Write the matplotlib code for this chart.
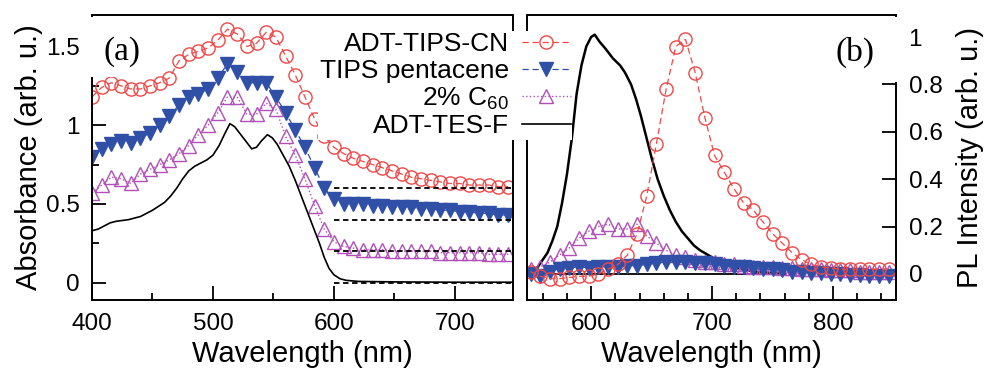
import numpy as np
import matplotlib
matplotlib.use("Agg")
import matplotlib.pyplot as plt
from matplotlib.patches import Rectangle
from matplotlib.ticker import MultipleLocator

plt.rcParams['font.family'] = ['Liberation Sans', 'DejaVu Sans']
plt.rcParams['mathtext.default'] = 'regular'

# ---- (a) absorbance, markers every 8 nm ----
wl_abs = np.arange(400, 745, 8)
abs_cn = [1.18, 1.24, 1.27, 1.25, 1.23, 1.23, 1.25, 1.27, 1.30, 1.41, 1.45, 1.47,
          1.49, 1.54, 1.61, 1.58, 1.50, 1.52, 1.59, 1.56, 1.44, 1.32, 1.18, 1.04,
          0.93, 0.86, 0.82, 0.79, 0.77, 0.75, 0.73, 0.71, 0.69, 0.67, 0.66, 0.65,
          0.64, 0.63, 0.63, 0.62, 0.62, 0.62, 0.61, 0.61]
abs_tips = [0.80, 0.85, 0.88, 0.90, 0.89, 0.92, 0.95, 1.00, 1.06, 1.13, 1.18, 1.20,
            1.23, 1.30, 1.39, 1.34, 1.27, 1.27, 1.27, 1.18, 1.08, 0.97, 0.86, 0.73,
            0.60, 0.53, 0.50, 0.50, 0.50, 0.49, 0.49, 0.48, 0.48, 0.48, 0.47, 0.47,
            0.46, 0.46, 0.45, 0.45, 0.44, 0.44, 0.43, 0.43]
abs_c60 = [0.57, 0.62, 0.67, 0.66, 0.63, 0.69, 0.72, 0.75, 0.78, 0.82, 0.87, 0.94,
           1.00, 1.08, 1.18, 1.18, 1.07, 1.07, 1.14, 1.10, 0.93, 0.81, 0.66, 0.49,
           0.34, 0.26, 0.23, 0.22, 0.21, 0.21, 0.21, 0.20, 0.20, 0.20, 0.20, 0.20,
           0.19, 0.19, 0.19, 0.19, 0.19, 0.18, 0.18, 0.18]
wl_tes = [400, 405, 410, 415, 420, 430, 440, 450, 460, 465, 470, 475, 480, 485, 490,
          495, 500, 505, 510, 514, 518, 522, 527, 532, 536, 540, 545, 549, 553, 558,
          563, 568, 573, 578, 583, 588, 592, 596, 600, 605, 610, 620, 650, 700, 748]
abs_tes = [0.33, 0.34, 0.36, 0.38, 0.39, 0.40, 0.42, 0.46, 0.51, 0.55, 0.60, 0.66,
           0.71, 0.74, 0.76, 0.78, 0.81, 0.87, 0.95, 1.01, 0.99, 0.95, 0.90, 0.85,
           0.86, 0.90, 0.94, 0.92, 0.88, 0.81, 0.74, 0.65, 0.55, 0.45, 0.35, 0.25,
           0.16, 0.09, 0.05, 0.025, 0.015, 0.008, 0.005, 0.003, 0.003]
base_levels = [0.6, 0.4, 0.2, 0.0]
base_wl = [600, 748]

# ---- (b) PL ----
wl_pl = np.arange(550, 850, 8)
pl_cn = [0.01, -0.01, -0.02, -0.02, -0.015, -0.01, -0.01, 0.0, 0.02, 0.04, 0.08,
         0.17, 0.33, 0.55, 0.78, 0.96, 0.99, 0.85, 0.66, 0.50, 0.43, 0.36, 0.30,
         0.27, 0.22, 0.17, 0.13, 0.09, 0.06, 0.04, 0.03, 0.025, 0.02, 0.02, 0.02,
         0.02, 0.02, 0.02]
pl_tips = [0.0, -0.01, 0.01, 0.02, 0.025, 0.03, 0.025, 0.03, 0.03, 0.03, 0.035,
           0.035, 0.04, 0.045, 0.05, 0.05, 0.05, 0.045, 0.045, 0.04, 0.035, 0.03,
           0.03, 0.025, 0.02, 0.02, 0.015, 0.01, 0.01, 0.005, 0.005, 0.0, 0.0,
           -0.005, -0.005, -0.01, -0.01, -0.01]
pl_c60 = [0.02, 0.03, 0.05, 0.08, 0.11, 0.15, 0.18, 0.20, 0.21, 0.19, 0.19, 0.21,
          0.16, 0.13, 0.10, 0.08, 0.07, 0.06, 0.05, 0.05, 0.04, 0.04, 0.035, 0.03,
          0.03, 0.03, 0.025, 0.025, 0.02, 0.02, 0.02, 0.015, 0.015, 0.015, 0.01,
          0.01, 0.01, 0.01]
wl_tes_pl = [548, 552, 556, 560, 564, 568, 572, 576, 580, 584, 588, 592, 596, 600,
             603, 607, 612, 618, 624, 628, 633, 637, 641, 645, 650, 655, 660, 665,
             670, 675, 680, 685, 690, 695, 700, 706, 712, 718, 725, 735, 745, 760]
pl_tes = [0.0, 0.01, 0.03, 0.06, 0.09, 0.14, 0.20, 0.30, 0.42, 0.57, 0.76, 0.88,
          0.96, 1.0, 1.01, 0.98, 0.95, 0.91, 0.88, 0.85, 0.80, 0.74, 0.67, 0.59,
          0.49, 0.40, 0.33, 0.27, 0.22, 0.18, 0.15, 0.12, 0.10, 0.085, 0.07, 0.055,
          0.04, 0.03, 0.02, 0.01, 0.005, 0.0]
zero_wl = [550, 738]

labels = ['ADT-TIPS-CN', 'TIPS pentacene', '2% C$_{60}$', 'ADT-TES-F']
red = '#f04848'
blue = '#3050a8'
purple = '#b050b8'

fig = plt.figure(figsize=(9.86, 3.71), dpi=100)
ax1 = fig.add_axes([92/986, 1-300/371, 421/986, 285/371])
ax2 = fig.add_axes([527/986, 1-300/371, 369/986, 285/371])

ms = 9.5
l1, = ax1.plot(wl_abs, abs_cn, color=red, ls=(0, (5, 3)), lw=0.9, marker='o', ms=ms,
               mfc='none', mec=red, mew=1.0)
l2, = ax1.plot(wl_abs, abs_tips, color=blue, ls=(0, (5, 3)), lw=0.9, marker='v', ms=ms,
               mfc=blue, mec=blue)
l3, = ax1.plot(wl_abs, abs_c60, color=purple, ls=':', lw=1.0, marker='^', ms=ms,
               mfc='none', mec=purple, mew=1.0)
l4, = ax1.plot(wl_tes, abs_tes, color='black', lw=1.2)
for b in base_levels:
    ax1.plot(base_wl, [b, b], color='black', ls=(0, (3, 2)), lw=1.3, zorder=3)

ax2.plot(wl_tes_pl, pl_tes, color='black', lw=1.8)
ax2.plot(zero_wl, [0, 0], color='black', lw=1.3)
ax2.plot(wl_pl, pl_c60, color=purple, ls=':', lw=1.0, marker='^', ms=ms,
         mfc='none', mec=purple, mew=1.0)
ax2.plot(wl_pl, pl_tips, color=blue, ls=(0, (5, 3)), lw=0.9, marker='v', ms=ms,
         mfc=blue, mec=blue)
ax2.plot(wl_pl, pl_cn, color=red, ls=(0, (5, 3)), lw=0.9, marker='o', ms=ms,
         mfc='none', mec=red, mew=1.0)

ax1.set_xlim(400, 748)
ax1.set_ylim(-0.11, 1.70)
ax2.set_xlim(547, 852)
ax2.set_ylim(-0.11, 1.093)

for ax in (ax1, ax2):
    for s in ax.spines.values():
        s.set_linewidth(1.4)

ax1.xaxis.set_major_locator(MultipleLocator(100))
ax1.xaxis.set_minor_locator(MultipleLocator(50))
ax1.yaxis.set_major_locator(MultipleLocator(0.5))
ax1.yaxis.set_minor_locator(MultipleLocator(0.25))
ax1.yaxis.set_major_formatter(lambda v, p: '%g' % v)
ax1.tick_params(which='both', direction='in', top=False, right=False, labelsize=17.5, pad=9, width=1.3)
ax1.tick_params(which='major', length=10)
ax1.tick_params(which='minor', length=5)
ax1.set_xlabel('Wavelength (nm)', fontsize=21, labelpad=4)
ax1.set_ylabel('Absorbance (arb. u.)', fontsize=21, labelpad=2)

ax2.xaxis.set_major_locator(MultipleLocator(100))
ax2.xaxis.set_minor_locator(MultipleLocator(20))
ax2.yaxis.set_major_locator(MultipleLocator(0.2))
ax2.yaxis.set_major_formatter(lambda v, p: '%g' % round(v, 2))
ax2.yaxis.tick_right()
ax2.yaxis.set_label_position('right')
ax2.tick_params(which='both', direction='in', top=False, left=False, labelsize=17.5, pad=9, width=1.3)
ax2.tick_params(which='major', length=10)
ax2.tick_params(which='minor', length=5)
ax2.set_xlabel('Wavelength (nm)', fontsize=21, labelpad=4)
ax2.set_ylabel('PL Intensity (arb. u.)', fontsize=21, labelpad=10)

# white boxes behind panel labels
ax1.add_patch(Rectangle((-0.016, 0.782), 0.17, 0.21, transform=ax1.transAxes,
                        facecolor='white', edgecolor='none', zorder=4, clip_on=False))
ax1.text(0.072, 0.87, '(a)', transform=ax1.transAxes, fontsize=24,
         family='Liberation Serif', ha='center', va='center', zorder=5)
ax2.add_patch(Rectangle((0.805, 0.765), 0.215, 0.228, transform=ax2.transAxes,
                        facecolor='white', edgecolor='none', zorder=4, clip_on=False))
ax2.text(0.89, 0.87, '(b)', transform=ax2.transAxes, fontsize=24,
         family='Liberation Serif', ha='center', va='center', zorder=5)

leg = fig.legend([l1, l2, l3, l4], labels, loc='upper right',
                 bbox_to_anchor=(572/986, 1-31/371), borderaxespad=0,
                 fontsize=19, markerfirst=False, handlelength=1.85,
                 handletextpad=0.5, labelspacing=0.1, borderpad=0.05,
                 frameon=True, fancybox=False, framealpha=1)
leg.get_frame().set_edgecolor('none')

fig.savefig('out.png', dpi=100)
